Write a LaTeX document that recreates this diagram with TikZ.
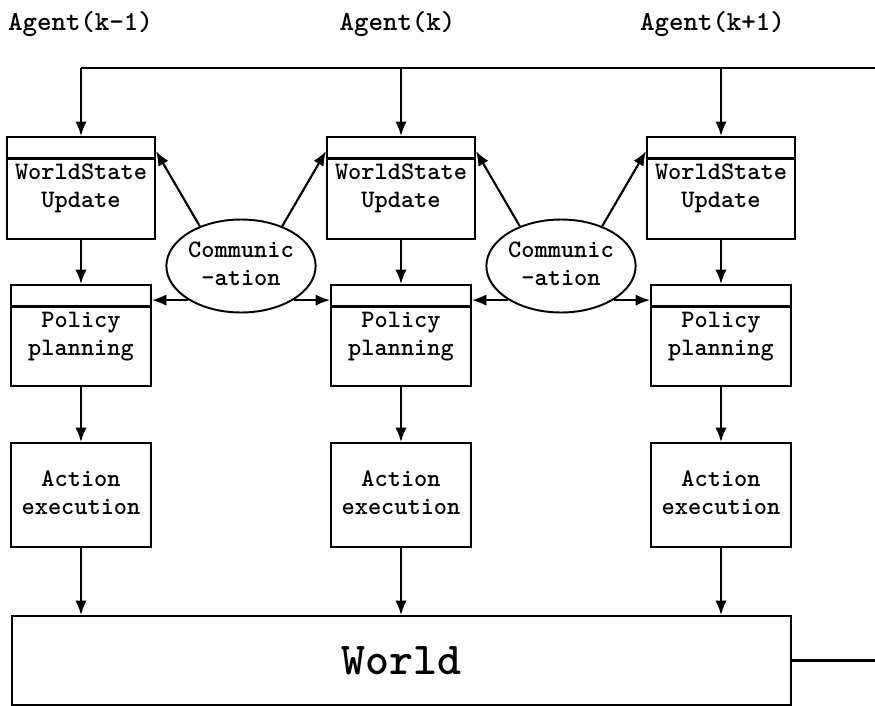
\documentclass[tikz,border=0pt]{standalone}
\usepackage{fontspec}
\newfontfamily\diagfont{Latin Modern Mono Light}
\usetikzlibrary{arrows.meta,shapes.geometric}

\tikzset{
  stagebox/.style={shape=rectangle,draw,line width=1.1pt,inner sep=0pt,minimum width=2.8cm,minimum height=2.06cm},
  headbox/.style={stagebox,path picture={
      \draw[line width=1.4pt] ([yshift=-0.43cm]path picture bounding box.north west) -- ([yshift=-0.43cm]path picture bounding box.north east);}},
  commnode/.style={shape=ellipse,draw,line width=1.1pt,inner sep=0pt,minimum width=2.76cm,minimum height=1.86cm},
  agentlabel/.style={font=\diagfont\bfseries\fontsize{15.7pt}{18pt}\selectfont}
}

\begin{document}
\begin{tikzpicture}[x=0.02cm,y=-0.02cm,>={Latex[length=2.9mm,width=2.3mm]},line width=1.2pt,font=\diagfont\bfseries\fontsize{14.3pt}{16pt}\selectfont]
\useasboundingbox (0,0) rectangle (875,706);

\node (agent1) [agentlabel] at (80.5,24) {Agent(k-1)};
\node (agent2) [agentlabel] at (397.5,24) {Agent(k)};
\node (agent3) [agentlabel] at (712.5,24) {Agent(k+1)};

\foreach \i/\x in {1/81,2/401,3/721}{
  \node (upd\i) [headbox,minimum width=2.96cm,minimum height=2.04cm] at (\x,188) {
    \begin{tabular}{@{}c@{}}
      WorldState\\
      Update
    \end{tabular}
  };
  \node (plan\i) [headbox,minimum height=2.02cm] at (\x,335.5) {
    \begin{tabular}{@{}c@{}}
      Policy\\
      planning
    \end{tabular}
  };
  \node (act\i) [stagebox,minimum height=2.08cm] at (\x,495) {
    \begin{tabular}{@{}c@{}}
      Action\\
      execution
    \end{tabular}
  };
}

\node (comm1) [commnode] at (241,266) {
  \begin{tabular}{@{}c@{}}
    Communic\\
    -ation
  \end{tabular}
};
\node (comm2) [commnode] at (561,266) {
  \begin{tabular}{@{}c@{}}
    Communic\\
    -ation
  \end{tabular}
};

\node (world) [shape=rectangle,draw,line width=1.1pt,minimum width=15.58cm,minimum height=1.78cm] at (401.5,660.5) {\fontsize{26pt}{30pt}\selectfont World};

\coordinate (topR) at (875,68);
\draw (upd1.north |- topR) -- (topR);
\draw (world.east) -- (world.east -| topR);

\foreach \i in {1,2,3}{
  \draw[->] (upd\i.north |- topR) -- (upd\i);
  \draw[->] (upd\i) -- (plan\i);
  \draw[->] (plan\i) -- (act\i);
  \draw[->] (act\i) -- (act\i.south |- world.north);
}

\foreach \c/\l/\r in {1/1/2,2/2/3}{
  \draw[->] (comm\c.136) -- ([yshift=-0.3cm]upd\l.north east);
  \draw[->] (comm\c.44) -- ([yshift=-0.3cm]upd\r.north west);
  \draw[->] (comm\c.213) -- (comm\c.213 -| plan\l.east);
  \draw[->] (comm\c.327) -- (comm\c.327 -| plan\r.west);
}
\end{tikzpicture}
\end{document}
